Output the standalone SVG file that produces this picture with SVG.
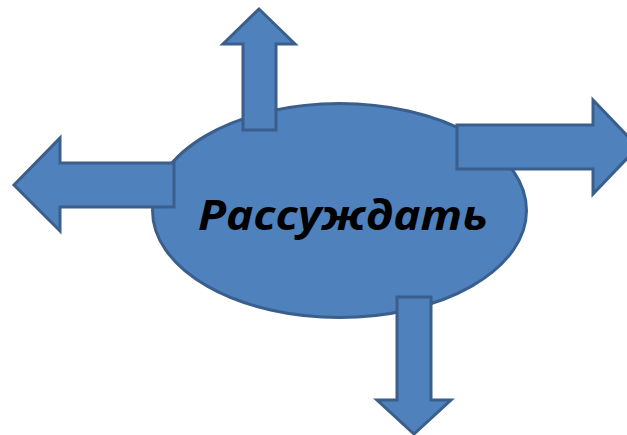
<svg xmlns="http://www.w3.org/2000/svg" width="627" height="435" viewBox="0 0 627 435">
<style>
.s{fill:#4F81BD;stroke:#3A5F8C;stroke-width:3;stroke-linejoin:miter}
.t{font-family:"Open Sans","Liberation Sans",sans-serif;font-weight:bold;font-style:italic;font-size:42px;fill:#000}
</style>
<rect width="627" height="435" fill="#fff"/>
<g id="center">
<ellipse class="s" cx="339.5" cy="210.5" rx="187" ry="107"/>
</g>
<g id="arrows">
<polygon id="up" class="s" points="243,130 276,130 276,44 295,44 259,9 223,44 243,44"/>
<polygon id="left" class="s" points="174,163 174,207 60,207 60,231 14,185 60,138 60,163"/>
<polygon id="right" class="s" points="457,125 593,125 593,100 638,147 593,194 593,169 457,169"/>
<polygon id="down" class="s" points="397,297 431,297 431,400 451,400 414,434 377,400 397,400"/>
</g>
<g id="label">
<text class="t" x="343" y="230" text-anchor="middle" textLength="290" lengthAdjust="spacingAndGlyphs">Рассуждать</text>
</g>
</svg>
